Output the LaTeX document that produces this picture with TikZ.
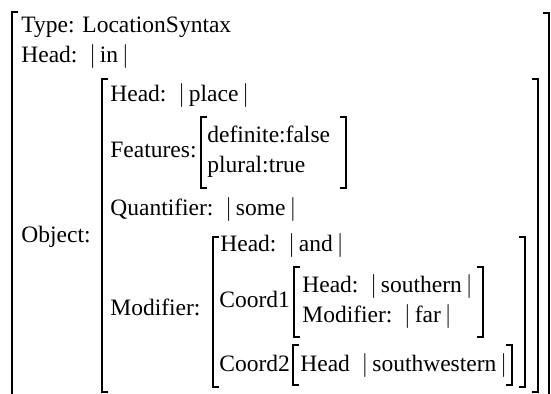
\documentclass[tikz,border=0pt]{standalone}
\usepackage{fontspec}
\setmainfont{Liberation Serif}
\usetikzlibrary{positioning}

% brackets: x, top, bottom
\newcommand{\lbrk}[3]{\draw[brk] (#1+6,#2) -- (#1,#2) -- (#1,#3) -- (#1+6,#3);}
\newcommand{\rbrk}[3]{\draw[brk] (#1-6,#2) -- (#1,#2) -- (#1,#3) -- (#1-6,#3);}
\newcommand{\fv}[1]{\hspace{0.5em}$|\,$#1$\,|$}

\begin{document}
\begin{tikzpicture}[x=0.5pt, y=-0.5pt,
	lbl/.style={anchor=base west, inner sep=0pt, font=\fontsize{11.75}{14}\selectfont},
	brk/.style={line width=0.9pt, line join=miter}]
		\useasboundingbox (0,0) rectangle (551,394);
		\clip (0,0) rectangle (551,394);
		
		% outer level
		\draw[brk] (18,12) -- (12,12) -- (12,400);
		\draw[brk] (543,13) -- (549,13) -- (549,400);
		\node[lbl] (type) at (21,33) {Type: LocationSyntax};
		\node[lbl] (head) at (21,63) {Head:\fv{in}};
		\node[lbl] (object) at (21,243) {Object:};
		
		% object
		\lbrk{102}{79}{392}
		\rbrk{538}{79}{392}
		\node[lbl] (objhead) at (110,102) {Head:\fv{place}};
		\node[lbl] (features) at (110,158) {Features:};
		\lbrk{201}{117}{188}
		\rbrk{346}{117}{188}
		\node[lbl] (definite) at (207,143) {definite:false};
		\node[lbl] (plural) at (207,173) {plural:true};
		\node[lbl] (quant) at (110,216) {Quantifier:\fv{some}};
		\node[lbl] (modifier) at (110,316) {Modifier:};
		
		% modifier
		\lbrk{213}{237}{387}
		\rbrk{525}{237}{387}
		\node[lbl] (modhead) at (220,252) {Head:\fv{and}};
		\node[lbl] (coordone) at (219,308) {Coord1};
		\lbrk{294}{267}{337}
		\rbrk{483}{267}{337}
		\node[lbl] (southern) at (302,293) {Head:\fv{southern}};
		\node[lbl] (far) at (302,323) {Modifier:\fv{far}};
		\node[lbl] (coordtwo) at (219,372) {Coord2};
		\lbrk{293}{345}{385}
		\rbrk{512}{345}{385}
		\node[lbl] (swhead) at (300,372) {Head\fv{southwestern}};
\end{tikzpicture}
\end{document}
